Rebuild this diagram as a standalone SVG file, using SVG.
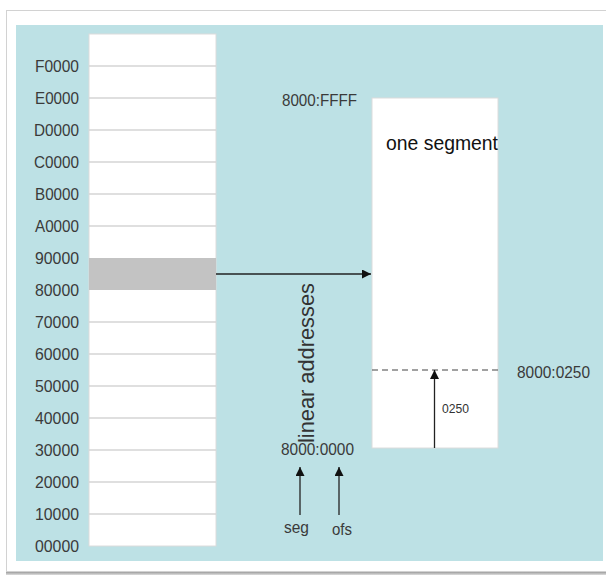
<svg xmlns="http://www.w3.org/2000/svg" width="606" height="575" viewBox="0 0 606 575">
<defs>
<marker id="ah" markerWidth="9" markerHeight="9" refX="9" refY="4.5" orient="auto" markerUnits="userSpaceOnUse">
<path d="M0,0 L9,4.5 L0,9 z" fill="#111"/>
</marker>
<linearGradient id="sh" x1="0" y1="0" x2="0" y2="1">
<stop offset="0" stop-color="#888"/>
<stop offset="1" stop-color="#ddd"/>
</linearGradient>
</defs>
<style>
.lbl{font-family:"Liberation Sans",Arial,sans-serif;font-size:16.5px;fill:#3a3a3a}
.mem{text-anchor:end}
.grid{stroke:#d4d4d4;stroke-width:1.5}
.conn{stroke:#222;stroke-width:1.3;fill:none}
</style>
<rect x="0" y="0" width="606" height="575" fill="#ffffff"/>
<rect x="6" y="571" width="600" height="4" fill="url(#sh)"/>
<rect x="6.5" y="10.5" width="602" height="561" fill="#ffffff" stroke="#d2d2d2" stroke-width="1"/>
<rect x="16" y="25" width="587" height="536" fill="#bde1e5"/>

<g id="memory">
<rect x="89" y="34" width="127" height="512" fill="#ffffff" stroke="#dcdcdc" stroke-width="1"/>
<rect x="89" y="258" width="127" height="32" fill="#c3c3c3"/>
<line class="grid" x1="89" y1="66" x2="216" y2="66"/>
<line class="grid" x1="89" y1="98" x2="216" y2="98"/>
<line class="grid" x1="89" y1="130" x2="216" y2="130"/>
<line class="grid" x1="89" y1="162" x2="216" y2="162"/>
<line class="grid" x1="89" y1="194" x2="216" y2="194"/>
<line class="grid" x1="89" y1="226" x2="216" y2="226"/>
<line class="grid" x1="89" y1="322" x2="216" y2="322"/>
<line class="grid" x1="89" y1="354" x2="216" y2="354"/>
<line class="grid" x1="89" y1="386" x2="216" y2="386"/>
<line class="grid" x1="89" y1="418" x2="216" y2="418"/>
<line class="grid" x1="89" y1="450" x2="216" y2="450"/>
<line class="grid" x1="89" y1="482" x2="216" y2="482"/>
<line class="grid" x1="89" y1="514" x2="216" y2="514"/>
<text class="lbl mem" x="79" y="72" textLength="44" lengthAdjust="spacingAndGlyphs">F0000</text>
<text class="lbl mem" x="79" y="104" textLength="44" lengthAdjust="spacingAndGlyphs">E0000</text>
<text class="lbl mem" x="79" y="136" textLength="45" lengthAdjust="spacingAndGlyphs">D0000</text>
<text class="lbl mem" x="79" y="168" textLength="45" lengthAdjust="spacingAndGlyphs">C0000</text>
<text class="lbl mem" x="79" y="200" textLength="44" lengthAdjust="spacingAndGlyphs">B0000</text>
<text class="lbl mem" x="79" y="232" textLength="44" lengthAdjust="spacingAndGlyphs">A0000</text>
<text class="lbl mem" x="79" y="264" textLength="44" lengthAdjust="spacingAndGlyphs">90000</text>
<text class="lbl mem" x="79" y="296" textLength="44" lengthAdjust="spacingAndGlyphs">80000</text>
<text class="lbl mem" x="79" y="328" textLength="44" lengthAdjust="spacingAndGlyphs">70000</text>
<text class="lbl mem" x="79" y="360" textLength="44" lengthAdjust="spacingAndGlyphs">60000</text>
<text class="lbl mem" x="79" y="392" textLength="44" lengthAdjust="spacingAndGlyphs">50000</text>
<text class="lbl mem" x="79" y="424" textLength="44" lengthAdjust="spacingAndGlyphs">40000</text>
<text class="lbl mem" x="79" y="456" textLength="44" lengthAdjust="spacingAndGlyphs">30000</text>
<text class="lbl mem" x="79" y="488" textLength="44" lengthAdjust="spacingAndGlyphs">20000</text>
<text class="lbl mem" x="79" y="520" textLength="44" lengthAdjust="spacingAndGlyphs">10000</text>
<text class="lbl mem" x="79" y="552" textLength="44" lengthAdjust="spacingAndGlyphs">00000</text>
</g>

<g id="segment">
<rect x="372" y="98" width="126" height="350" fill="#ffffff" stroke="#dcdcdc" stroke-width="1"/>
<text x="386" y="150" textLength="112" lengthAdjust="spacingAndGlyphs" style="font-family:'Liberation Sans',Arial,sans-serif;font-size:20px;fill:#111">one segment</text>
<line x1="372" y1="370" x2="498" y2="370" stroke="#444" stroke-width="1.2" stroke-dasharray="6,4"/>
</g>

<g id="labels">
<text class="lbl" x="282" y="106" textLength="75" lengthAdjust="spacingAndGlyphs">8000:FFFF</text>
<text class="lbl" x="517" y="377.5" textLength="73" lengthAdjust="spacingAndGlyphs">8000:0250</text>
<text class="lbl" x="281" y="455" textLength="73" lengthAdjust="spacingAndGlyphs">8000:0000</text>
<text x="442" y="413" textLength="27" lengthAdjust="spacingAndGlyphs" style="font-family:'Liberation Sans',Arial,sans-serif;font-size:12.5px;fill:#333">0250</text>
<text transform="translate(313.5,443) rotate(-90)" style="font-family:'Liberation Sans',Arial,sans-serif;font-size:21.8px;fill:#333">linear addresses</text>
<text class="lbl" x="284" y="533" textLength="25" lengthAdjust="spacingAndGlyphs">seg</text>
<text class="lbl" x="332" y="535" textLength="20" lengthAdjust="spacingAndGlyphs">ofs</text>
</g>

<g id="connectors">
<line class="conn" x1="216" y1="274" x2="371" y2="274" marker-end="url(#ah)"/>
<line class="conn" x1="434.5" y1="448" x2="434.5" y2="370" marker-end="url(#ah)"/>
<line class="conn" x1="300" y1="515" x2="300" y2="467" marker-end="url(#ah)"/>
<line class="conn" x1="339" y1="515" x2="339" y2="467" marker-end="url(#ah)"/>
</g>
</svg>
